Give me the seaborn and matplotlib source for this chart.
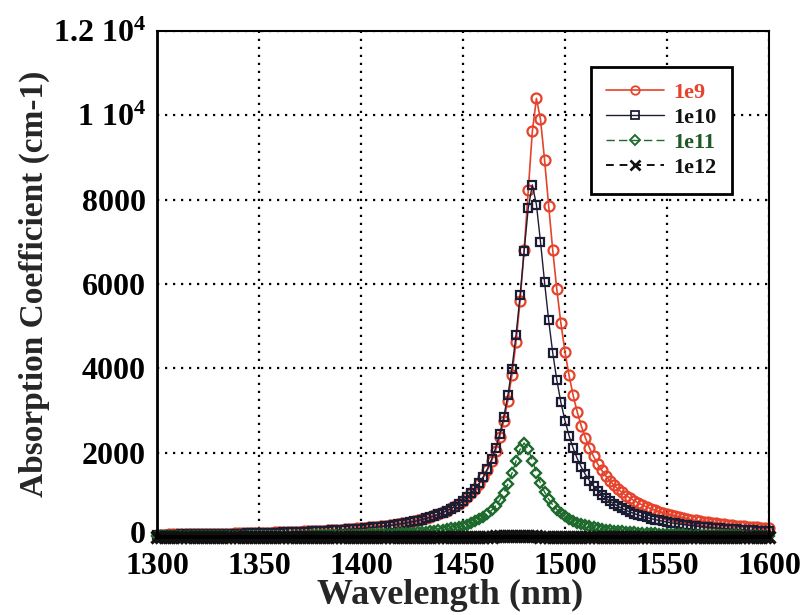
import numpy as np
import matplotlib
matplotlib.use("Agg")
import matplotlib.pyplot as plt
import matplotlib.transforms as mtransforms
import seaborn as sns
from matplotlib.lines import Line2D

# Sampling grid (nm)
wavelength_nm = np.arange(1300, 1601, 2)

# Absorption coefficient (cm-1) for each carrier density
absorb_1e9 = [
    57, 58, 59, 61, 62, 63, 64, 65, 67, 68,
    70, 71, 72, 74, 76, 77, 79, 81, 82, 84,
    86, 88, 90, 93, 95, 97, 100, 102, 105, 108,
    111, 114, 117, 120, 123, 127, 131, 135, 139, 143,
    148, 153, 158, 163, 169, 175, 181, 187, 194, 202,
    210, 218, 227, 237, 247, 257, 269, 281, 295, 309,
    325, 342, 360, 380, 402, 426, 452, 480, 512, 546,
    585, 628, 677, 731, 792, 862, 942, 1035, 1141, 1266,
    1413, 1588, 1797, 2050, 2362, 2748, 3230, 3840, 4616, 5599,
    6816, 8228, 9619, 10400, 9905, 8947, 7858, 6808, 5872, 5070,
    4395, 3832, 3362, 2966, 2635, 2355, 2116, 1912, 1736, 1583,
    1449, 1332, 1229, 1138, 1056, 984, 918, 860, 806, 758,
    714, 674, 638, 604, 573, 544, 518, 493, 471, 450,
    430, 412, 395, 379, 364, 350, 336, 324, 312, 301,
    291, 281, 271, 262, 254, 246, 238, 231, 224, 217,
    211]

absorb_1e10 = [
    54, 55, 56, 57, 58, 59, 60, 62, 63, 64,
    65, 67, 68, 70, 71, 73, 74, 76, 78, 80,
    81, 83, 85, 88, 90, 92, 94, 97, 99, 102,
    105, 108, 111, 114, 117, 121, 124, 128, 132, 136,
    141, 145, 150, 155, 161, 166, 173, 179, 186, 193,
    201, 209, 218, 227, 237, 247, 259, 271, 284, 299,
    314, 331, 349, 369, 390, 414, 440, 469, 501, 536,
    575, 619, 668, 723, 786, 859, 941, 1037, 1148, 1279,
    1433, 1617, 1839, 2109, 2440, 2849, 3360, 3996, 4783, 5730,
    6791, 7799, 8350, 7884, 7005, 6040, 5143, 4369, 3724, 3193,
    2760, 2403, 2108, 1863, 1658, 1484, 1337, 1210, 1101, 1006,
    923, 850, 786, 729, 678, 632, 592, 554, 521, 490,
    463, 437, 414, 393, 373, 355, 338, 322, 308, 294,
    282, 270, 259, 249, 239, 230, 221, 213, 205, 198,
    192, 185, 179, 173, 168, 162, 157, 153, 148, 144,
    140]

absorb_1e11 = [
    14, 15, 15, 15, 15, 16, 16, 16, 17, 17,
    17, 18, 18, 19, 19, 19, 20, 20, 21, 21,
    22, 22, 23, 24, 24, 25, 25, 26, 27, 28,
    28, 29, 30, 31, 32, 33, 34, 35, 36, 37,
    38, 40, 41, 43, 44, 46, 48, 49, 51, 53,
    56, 58, 61, 63, 66, 69, 73, 76, 80, 85,
    89, 94, 100, 106, 113, 120, 128, 137, 147, 159,
    171, 185, 202, 220, 242, 266, 295, 329, 369, 417,
    474, 545, 631, 739, 873, 1042, 1253, 1509, 1798, 2077,
    2230, 2083, 1814, 1530, 1277, 1067, 897, 761, 652, 563,
    491, 432, 383, 341, 307, 277, 251, 229, 210, 193,
    178, 165, 154, 143, 134, 125, 118, 111, 104, 99,
    93, 88, 84, 80, 76, 72, 69, 66, 63, 61,
    58, 56, 54, 52, 50, 48, 46, 44, 43, 41,
    40, 39, 38, 36, 35, 34, 33, 32, 31, 30,
    30]

absorb_1e12 = [
    0, 0, 0, 0, 0, 0, 0, 0, 0, 0,
    0, 0, 0, 0, 0, 0, 0, 0, 0, 0,
    0, 0, 0, 0, 0, 0, 0, 0, 0, 0,
    0, 0, 0, 0, 0, 0, 0, 1, 1, 1,
    1, 1, 1, 1, 1, 1, 1, 1, 1, 1,
    1, 1, 1, 1, 1, 1, 1, 1, 1, 1,
    1, 1, 2, 2, 2, 2, 2, 2, 2, 2,
    3, 3, 3, 4, 4, 4, 5, 6, 6, 7,
    8, 10, 12, 14, 17, 20, 24, 28, 30, 28,
    24, 20, 17, 14, 12, 10, 8, 7, 6, 6,
    5, 4, 4, 4, 3, 3, 3, 2, 2, 2,
    2, 2, 2, 2, 2, 1, 1, 1, 1, 1,
    1, 1, 1, 1, 1, 1, 1, 1, 1, 1,
    1, 1, 1, 1, 1, 1, 1, 1, 1, 1,
    0, 0, 0, 0, 0, 0, 0, 0, 0, 0,
    0]

series_labels = ["1e9", "1e10", "1e11", "1e12"]
x_ticks = [1300, 1350, 1400, 1450, 1500, 1550, 1600]
y_ticks = [0, 2000, 4000, 6000, 8000, 10000, 12000]
y_tick_labels = ["0", "2000", "4000", "6000", "8000",
                 r"$\mathbf{1\ 10^{4}}$", r"$\mathbf{1.2\ 10^{4}}$"]

sns.set_style("white")
plt.rcParams.update({
    "font.family": ["Liberation Serif", "DejaVu Serif"],
    "font.weight": "bold",
    "axes.labelweight": "bold",
    "mathtext.fontset": "custom",
    "mathtext.rm": "Liberation Serif:bold",
    "mathtext.bf": "Liberation Serif:bold",
    "mathtext.it": "Liberation Serif:bold:italic",
})

styles = [
    dict(color="#e5432c", marker="o", markersize=7.2, linestyle="-", linewidth=1.2, mew=1.6),
    dict(color="#1c1c34", marker="s", markersize=6.4, linestyle="-", linewidth=1.0, mew=1.6),
    dict(color="#1e6a2d", marker="D", markersize=5.6, linestyle=(0, (6, 3)), linewidth=1.0, mew=1.7),
    dict(color="#111111", marker="x", markersize=9.0, linestyle=(0, (4, 3)), linewidth=1.4, mew=2.4),
]
text_colors = ["#e5432c", "#111111", "#1f5a26", "#111111"]

fig = plt.figure(figsize=(8.03, 6.15), dpi=100)
ax = fig.add_axes([0.1955, 0.1268, 0.7621, 0.8228])

all_series = [absorb_1e9, absorb_1e10, absorb_1e11, absorb_1e12]
for values, st in zip(all_series, styles):
    sns.lineplot(x=wavelength_nm, y=values, ax=ax, color=st["color"],
                 linestyle=st["linestyle"], linewidth=st["linewidth"],
                 marker=st["marker"], markersize=st["markersize"],
                 markerfacecolor="none", markeredgecolor=st["color"],
                 markeredgewidth=st["mew"], clip_on=False, legend=False)

ax.set_xlim(1300, 1600)
ax.set_ylim(0, 12000)
ax.set_xticks(x_ticks)
ax.set_xticklabels([str(t) for t in x_ticks])
ax.set_yticks(y_ticks)
ax.set_yticklabels(y_tick_labels)
ax.tick_params(axis="both", length=0, labelsize=23, colors="black")
ax.tick_params(axis="x", pad=11)
ax.tick_params(axis="y", pad=8)
for lbl in ax.get_xticklabels() + ax.get_yticklabels():
    lbl.set_fontweight("bold")

# nudge the "0" label up so it clears the first wavelength label
zero_lbl = ax.get_yticklabels()[0]
zero_lbl.set_transform(zero_lbl.get_transform() +
                       mtransforms.ScaledTranslation(0, 5 / 100, fig.dpi_scale_trans))

ax.set_axisbelow(True)
ax.grid(True, color="black", linestyle=(0, (1, 2.6)), linewidth=1.6)

for side, spine in ax.spines.items():
    spine.set_visible(True)
    spine.set_color("black")
    spine.set_linewidth({"left": 2.0, "bottom": 3.0}.get(side, 1.5))

ax.set_xlabel("Wavelength (nm)", fontsize=26, fontweight="bold", labelpad=-2)
ax.xaxis.label.set_x(0.479)
ax.set_ylabel("Absorption Coefficient (cm-1)", fontsize=24, fontweight="bold", labelpad=2)

handles = [Line2D([], [], color=st["color"], linestyle=st["linestyle"],
                  linewidth=st["linewidth"], marker=st["marker"],
                  markersize=st["markersize"] * 0.85, markerfacecolor="none",
                  markeredgecolor=st["color"], markeredgewidth=st["mew"] * 0.8)
           for st in styles]
leg = ax.legend(handles, series_labels, loc="upper right",
                bbox_to_anchor=(0.9395, 0.929), borderaxespad=0,
                frameon=True, fancybox=False, edgecolor="black", framealpha=1,
                prop=dict(family="Liberation Serif", weight="bold", size=16),
                handlelength=2.6, labelspacing=0.2, borderpad=0.7,
                handletextpad=0.4)
leg.get_frame().set_linewidth(2)
for txt, c in zip(leg.get_texts(), text_colors):
    txt.set_color(c)

fig.savefig("out.png", dpi=100)
